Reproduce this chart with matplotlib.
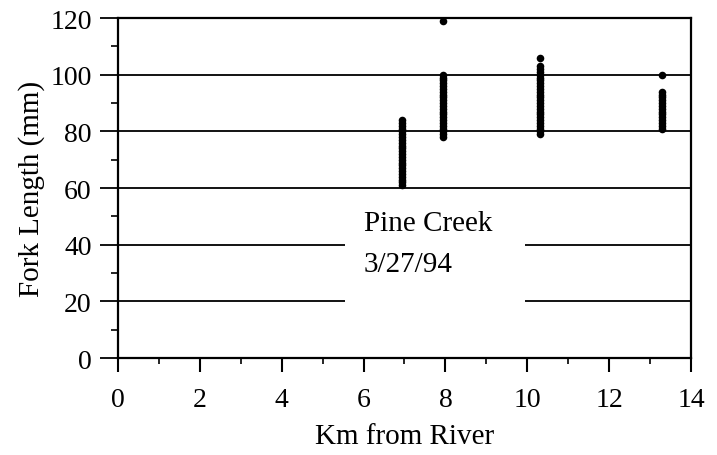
import matplotlib.pyplot as plt
from matplotlib.patches import Rectangle
from matplotlib.ticker import MultipleLocator

plt.rcParams['font.family'] = ['Liberation Serif', 'DejaVu Serif']

# fish sampled at each site (km from river), fork length in mm
site_km = [6.95, 7.95, 10.3, 13.3]
lengths = [
    [61, 62, 63, 64, 65, 66, 67, 68, 69, 70, 71, 72, 73, 74, 75, 76, 77, 78,
     79, 80, 81, 82, 83, 84],
    [78, 79, 80, 81, 82, 83, 84, 85, 86, 87, 88, 89, 90, 91, 92, 93, 94, 95,
     96, 97, 98, 99, 100, 119],
    [79, 80, 81, 82, 83, 84, 85, 86, 87, 88, 89, 90, 91, 92, 93, 94, 95, 96,
     97, 98, 99, 100, 101, 102, 103, 106],
    [81, 82, 83, 84, 85, 86, 87, 88, 89, 90, 91, 92, 93, 94, 100],
]
x_ticks = [0, 2, 4, 6, 8, 10, 12, 14]
y_ticks = [0, 20, 40, 60, 80, 100, 120]

fig = plt.figure(figsize=(7.17, 4.56), dpi=100)
ax = fig.add_axes([0.1646, 0.2127, 0.7991, 0.7456])

for km, vals in zip(site_km, lengths):
    ax.scatter([km] * len(vals), vals, s=30, color='black', zorder=4,
               linewidths=0)

ax.set_xlim(0, 14)
ax.set_ylim(0, 120)
ax.set_xticks(x_ticks)
ax.set_yticks(y_ticks)
ax.set_yticklabels([str(v) for v in y_ticks])
ax.xaxis.set_minor_locator(MultipleLocator(1))
ax.yaxis.set_minor_locator(MultipleLocator(10))

ax.yaxis.grid(True, color='black', linewidth=1.3)
ax.set_axisbelow(True)

# white box behind the label breaks the grid lines
ax.add_patch(Rectangle((5.55, 14), 4.4, 41, facecolor='white',
                       edgecolor='none', zorder=2))
ax.text(6.0, 47.5, 'Pine Creek', fontsize=21, va='center', ha='left', zorder=3)
ax.text(6.0, 33.2, '3/27/94', fontsize=21, va='center', ha='left', zorder=3)

for sp in ax.spines.values():
    sp.set_linewidth(1.6)

ax.tick_params(axis='x', which='major', direction='out', length=10, width=1.5,
               labelsize=20, pad=11)
ax.tick_params(axis='x', which='minor', direction='out', length=4, width=1.2)
ax.tick_params(axis='y', which='major', direction='out', length=13, width=1.3,
               labelsize=20, pad=6)
ax.tick_params(axis='y', which='minor', direction='out', length=5, width=1.2)

ax.set_xlabel('Km from River', fontsize=21, labelpad=8)
ax.set_ylabel('Fork Length (mm)', fontsize=21, labelpad=4)

fig.savefig('out.png', dpi=100)
